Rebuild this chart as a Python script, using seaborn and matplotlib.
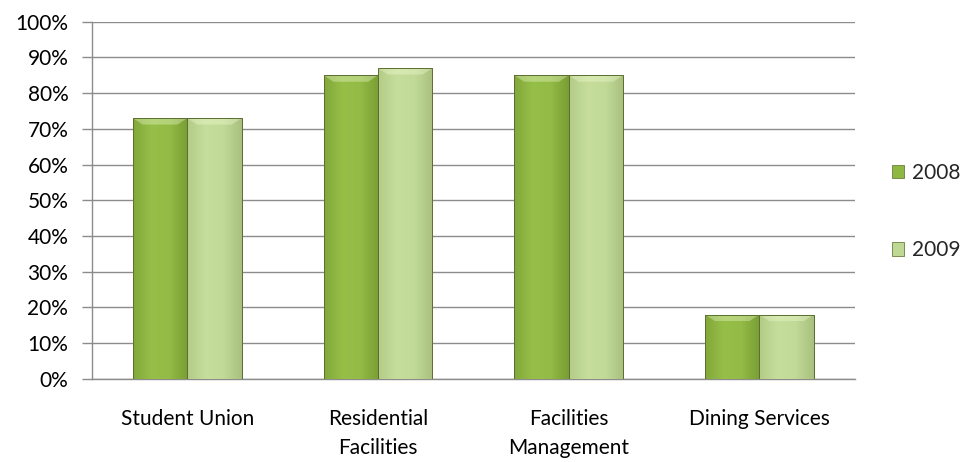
import numpy as np
import pandas as pd
import matplotlib
matplotlib.use("Agg")
import matplotlib.pyplot as plt
import seaborn as sns
from matplotlib.colors import LinearSegmentedColormap
from matplotlib.ticker import PercentFormatter, FixedLocator

categories = ["Student Union", "Residential\nFacilities", "Facilities\nManagement", "Dining Services"]
years = ["2008", "2009"]
values_2008 = [73, 85, 85, 18]
values_2009 = [73, 87, 85, 18]
y_ticks = [0, 10, 20, 30, 40, 50, 60, 70, 80, 90, 100]

df = pd.DataFrame({
    "category": categories * 2,
    "year": [years[0]] * 4 + [years[1]] * 4,
    "value": values_2008 + values_2009,
})

sns.set_theme(style="white")
plt.rcParams["font.family"] = ["Lato", "DejaVu Sans"]

palette = {"2008": "#8fb843", "2009": "#c0d896"}
shade = {
    "2008": ["#82a83a", "#96bf48", "#93bb46", "#7a9e34"],
    "2009": ["#b2cc86", "#c6dd9c", "#c2da98", "#a9c07f"],
}

fig = plt.figure(figsize=(9.67, 4.62), dpi=100)
ax = fig.add_axes([0.095, 0.18, 0.789, 0.773])

sns.barplot(data=df, x="category", y="value", hue="year", palette=palette,
            width=0.57, ax=ax, edgecolor="#6b7f3e", linewidth=0.6,
            saturation=1, legend=False, zorder=3)

ax.set_ylim(0, 100)
ax.set_xlim(-0.5, 3.5)

# soft horizontal shading inside each bar plus a bevelled top edge
for container, yr in zip(ax.containers, years):
    cmap = LinearSegmentedColormap.from_list("g" + yr, shade[yr])
    grad = np.linspace(0, 1, 64).reshape(1, -1)
    for bar in container:
        x0, y0 = bar.get_x(), bar.get_y()
        w, h = bar.get_width(), bar.get_height()
        im = ax.imshow(grad, cmap=cmap, aspect="auto", extent=[x0, x0 + w, y0, y0 + h],
                       zorder=3.5, interpolation="bicubic")
        im.set_clip_path(bar)
        ax.fill([x0, x0 + w, x0 + w * 0.82, x0 + w * 0.18],
                [y0 + h, y0 + h, y0 + h - 1.8, y0 + h - 1.8],
                color="#f4ffd8", alpha=0.35, zorder=3.6, lw=0)
        ax.add_patch(plt.Rectangle((x0, y0), w, h, fill=False,
                                   edgecolor="#5c6e33", lw=0.7, zorder=3.7))

ax.yaxis.set_major_locator(FixedLocator(y_ticks))
ax.yaxis.set_major_formatter(PercentFormatter(decimals=0))
ax.grid(axis="y", color="#8c8c8c", linewidth=1.0, zorder=0)
ax.set_axisbelow(True)

for side in ["top", "right"]:
    ax.spines[side].set_visible(False)
for side in ["left", "bottom"]:
    ax.spines[side].set_color("#8c8c8c")
    ax.spines[side].set_linewidth(1.0)

ax.set_xticks(range(4))
ax.set_xticklabels(categories, linespacing=1.55, va="top")
ax.set_xticks([-0.5, 0.5, 1.5, 2.5, 3.5], minor=True)
ax.tick_params(axis="x", which="major", length=0, pad=22, labelsize=15, colors="black")
ax.tick_params(axis="x", which="minor", length=6, color="#8c8c8c", width=1.0, direction="out")
ax.tick_params(axis="y", length=7, color="#8c8c8c", width=1.0, labelsize=15, colors="black",
               left=True, pad=10)
ax.set_xlabel("")
ax.set_ylabel("")

handles = [plt.Rectangle((0, 0), 1, 1, facecolor=palette[y], edgecolor="#6b7f3e", lw=0.6) for y in years]
fig.legend(handles, years, loc="center left", bbox_to_anchor=(0.907, 0.542), frameon=False,
           fontsize=15, handlelength=0.6, handleheight=0.6, handletextpad=0.4, labelspacing=2.75,
           borderpad=0.2)

fig.savefig("out.png", dpi=100)
